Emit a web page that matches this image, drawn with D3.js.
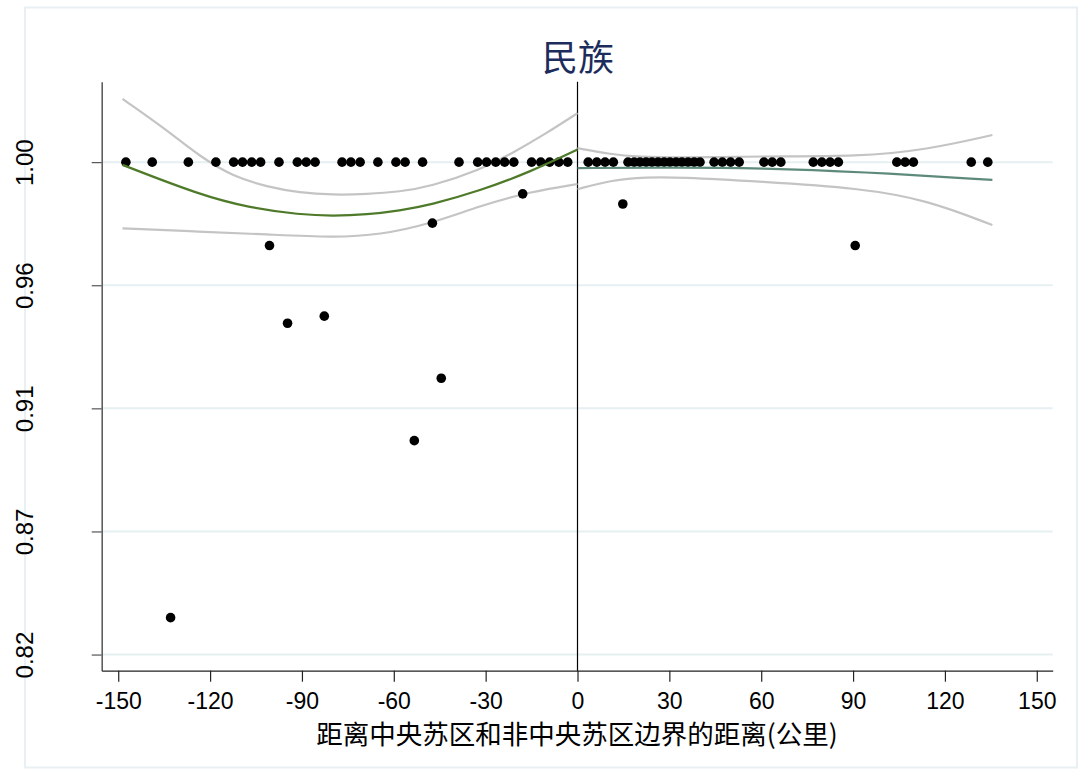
<!DOCTYPE html>
<html><head><meta charset="utf-8">
<script src="https://cdn.jsdelivr.net/npm/d3@7"></script>
<style>body{margin:0;background:#fff}svg{display:block}</style>
</head><body>
<script>
// ---- data ----
const titleText = "民族";
const xTitle = "距离中央苏区和非中央苏区边界的距离(公里)";
const xTicks = [-150,-120,-90,-60,-30,0,30,60,90,120,150];
const xTickLabels = ["-150","-120","-90","-60","-30","0","30","60","90","120","150"];
const yTicks = [1.00,0.955,0.91,0.865,0.82];
const yTickLabels = ["1.00","0.96","0.91","0.87","0.82"];

// scatter points at share = 1.00 (left of border)
const leftOnesX = [-147.5,-138.9,-127.1,-118.1,-112.3,-109.4,-106.4,-103.5,-97.5,-91.5,-88.6,-85.7,-76.9,-74.0,-71.0,-65.2,-59.3,-56.3,-50.6,-38.7,-32.6,-29.7,-26.7,-23.8,-20.8,-15.0,-12.0,-9.1,-6.1,-3.2];
// scatter points at share = 1.00 (right of border)
const rightOnesX = [3.5,6.3,9.0,11.7,16.5,18.5,20.4,22.4,24.3,26.3,28.3,30.2,32.2,34.1,36.1,38.1,40.0,44.6,47.3,50.0,52.8,60.9,63.6,66.4,77.0,79.8,82.5,85.2,104.3,107.0,109.7,128.6,134.0];
// other scatter points
const otherX = [-132.9,-100.6,-94.7,-82.7,-53.3,-47.4,-44.5,-17.9,14.8,90.7];
const otherY = [0.8335,0.9695,0.9411,0.9437,0.8982,0.9777,0.9210,0.9884,0.9847,0.9695];

// fitted line & CI, left side
const leftFitX = [-148.6,-123.3,-107.0,-90.7,-79.9,-68.8,-58.0,-48.2,-31.9,-15.5,0];
const leftFitY = [0.9990,0.9880,0.9833,0.9808,0.9803,0.9808,0.9823,0.9843,0.9895,0.9964,1.0046];
const leftUpX = [-148.6,-134.2,-123.3,-112.4,-101.4,-90.7,-79.9,-68.8,-58.0,-48.2,-31.9,-21.1,-10.1,0];
const leftUpY = [1.0231,1.0118,1.0020,0.9947,0.9910,0.9888,0.9880,0.9883,0.9892,0.9910,0.9971,1.0034,1.0106,1.0179];
const leftLoX = [-148.6,-123.3,-101.4,-79.9,-64.5,-48.2,-31.9,-15.5,0];
const leftLoY = [0.9758,0.9746,0.9736,0.9724,0.9734,0.9774,0.9840,0.9892,0.9920];
// fitted line & CI, right side
const rightFitX = [0,33.2,59.6,92.3,135.5];
const rightFitY = [0.9978,0.9981,0.9978,0.9965,0.9935];
const rightUpX = [0,10,20,35,60,92,114,135.5];
const rightUpY = [1.0051,1.0030,1.0019,1.0016,1.0022,1.0020,1.0045,1.0099];
const rightLoX = [0,11.3,22.4,33.2,59.6,92.3,114.1,135.5];
const rightLoY = [0.9901,0.9935,0.9945,0.9945,0.9929,0.9905,0.9862,0.9770];

// ---- drawing ----
const W = 1081, H = 771;
const svg = d3.select("body").append("svg").attr("width", W).attr("height", H);
const x = d3.scaleLinear().domain([-155.4,155.2]).range([101.7,1052.7]);
const y = d3.scaleLinear().domain([0.8141,1.0294]).range([670.7,81.7]);
const numFont = "'Liberation Sans', Arial, sans-serif";
const cjkFont = "'Noto Sans CJK SC', sans-serif";

svg.append("rect").attr("x",0).attr("y",0).attr("width",W).attr("height",H).attr("fill","#fff");
svg.append("rect").attr("x",25).attr("y",7.5).attr("width",1052).attr("height",760)
  .attr("fill","none").attr("stroke","#e8f0f3").attr("stroke-width",2);

// grid
svg.append("g").selectAll("line").data(yTicks).join("line")
  .attr("x1",101.7).attr("x2",1052.7).attr("y1",d=>y(d)).attr("y2",d=>y(d))
  .attr("stroke","#e6eff1").attr("stroke-width",2);

// y axis
const yAxis = d3.axisLeft(y).tickValues(yTicks).tickSize(10).tickSizeOuter(0)
  .tickFormat((d,i)=>yTickLabels[i]);
const gy = svg.append("g").attr("transform","translate(101.7,0)").call(yAxis);
gy.select(".domain").attr("stroke","#555").attr("stroke-width",1.5);
gy.selectAll(".tick line").attr("stroke","#555").attr("stroke-width",1.2);
gy.selectAll(".tick text").attr("font-family",numFont).attr("font-size",24).attr("fill","#000")
  .attr("text-anchor","middle").attr("dy",0).attr("x",0)
  .attr("transform","translate(-69,0) rotate(-90)");

// x axis
const xAxis = d3.axisBottom(x).tickValues(xTicks).tickSize(11).tickSizeOuter(0)
  .tickFormat((d,i)=>xTickLabels[i]);
const gx = svg.append("g").attr("transform","translate(0,670.7)").call(xAxis);
gx.select(".domain").attr("stroke","#222").attr("stroke-width",1.2);
gx.selectAll(".tick line").attr("stroke","#222").attr("stroke-width",1.2);
gx.selectAll(".tick text").attr("font-family",numFont).attr("font-size",23).attr("fill","#000")
  .attr("y",38.5).attr("dy",0);

// zero line
svg.append("line").attr("x1",x(0)).attr("x2",x(0)).attr("y1",81.7).attr("y2",670.7)
  .attr("stroke","#000").attr("stroke-width",1.2);

// lines
const line = d3.line().x(d=>x(d[0])).y(d=>y(d[1])).curve(d3.curveBasis);
function drawLine(xs, ys, color, w){
  svg.append("path").datum(xs.map((v,i)=>[v,ys[i]]))
    .attr("d",line).attr("fill","none").attr("stroke",color).attr("stroke-width",w);
}
drawLine(leftUpX,leftUpY,"#c4c4c4",2.2);
drawLine(leftLoX,leftLoY,"#c4c4c4",2.2);
drawLine(rightUpX,rightUpY,"#c4c4c4",2.2);
drawLine(rightLoX,rightLoY,"#c4c4c4",2.2);

// points
const pts = [].concat(
  leftOnesX.map(v=>[v,1.0]),
  rightOnesX.map(v=>[v,1.0]),
  otherX.map((v,i)=>[v,otherY[i]])
);
svg.append("g").selectAll("circle").data(pts).join("circle")
  .attr("cx",d=>x(d[0])).attr("cy",d=>y(d[1])).attr("r",4.8).attr("fill","#000");

drawLine(leftFitX,leftFitY,"#4e7a2a",2.2);
drawLine(rightFitX,rightFitY,"#5e8a7c",2.2);

// titles
svg.append("text").attr("x",578).attr("y",71).attr("text-anchor","middle")
  .attr("font-family",cjkFont).attr("font-size",36).attr("fill","#1c2c5c").text(titleText);
svg.append("text").attr("x",577).attr("y",744).attr("text-anchor","middle")
  .attr("font-family",cjkFont).attr("font-size",26.5).attr("fill","#000").text(xTitle);
</script>
</body></html>
